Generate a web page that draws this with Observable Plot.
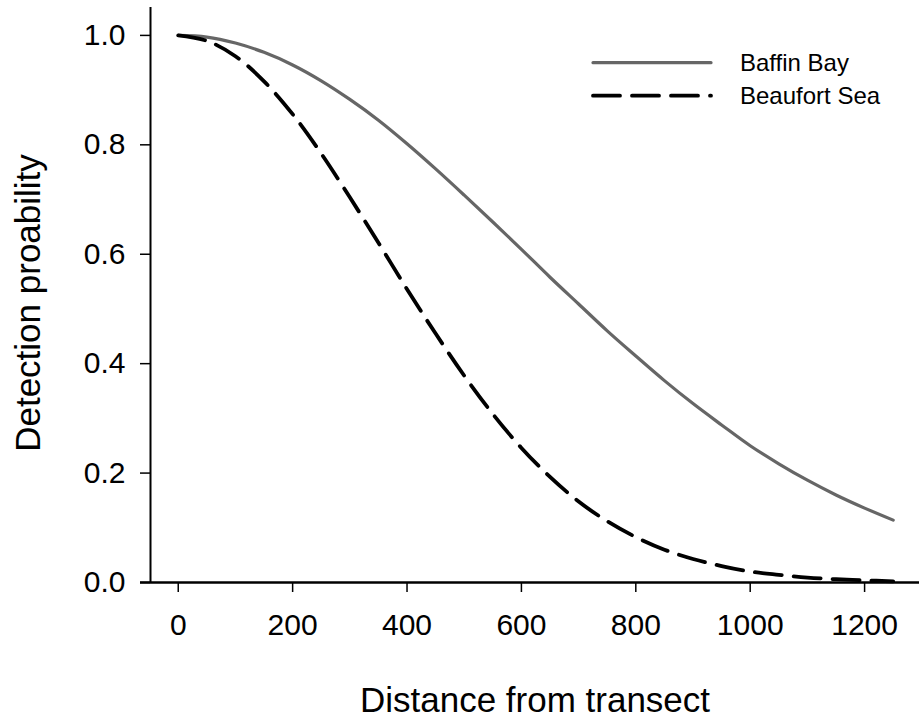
<!DOCTYPE html>
<html>
<head>
<meta charset="utf-8">
<script src="https://cdn.jsdelivr.net/npm/d3@7"></script>
<script src="https://cdn.jsdelivr.net/npm/@observablehq/plot@0.6"></script>
<style>
  html, body { margin: 0; padding: 0; background: #fff; }
  #wrap { position: relative; width: 919px; height: 721px; }
  #legend { position: absolute; left: 0; top: 0; }
</style>
</head>
<body>
<div id="wrap"></div>
<script>
// Distance from transect (x) at which curves were read
const distance = [0, 50, 100, 150, 200, 250, 300, 350, 400, 450, 500, 550, 600,
  650, 700, 750, 800, 850, 900, 950, 1000, 1050, 1100, 1150, 1200, 1250];
// Detection probability
const baffinBay = [1.000, 0.997, 0.986, 0.969, 0.946, 0.917, 0.883, 0.845, 0.802,
  0.756, 0.708, 0.659, 0.609, 0.558, 0.509, 0.460, 0.414, 0.369, 0.327, 0.288,
  0.250, 0.217, 0.187, 0.160, 0.136, 0.114];
const beaufortSea = [1.000, 0.990, 0.962, 0.916, 0.856, 0.784, 0.704, 0.621, 0.536,
  0.455, 0.378, 0.308, 0.246, 0.193, 0.148, 0.112, 0.083, 0.060, 0.043, 0.030,
  0.020, 0.014, 0.009, 0.006, 0.004, 0.002];
const seriesNames = ["Baffin Bay", "Beaufort Sea"];
const xTicks = [0, 200, 400, 600, 800, 1000, 1200];
const yTicks = [0.0, 0.2, 0.4, 0.6, 0.8, 1.0];

const rows = [];
distance.forEach((d, i) => {
  rows.push({series: seriesNames[0], d, p: baffinBay[i]});
  rows.push({series: seriesNames[1], d, p: beaufortSea[i]});
});

const font = "'Liberation Sans', Arial, sans-serif";
const xDomain = [-48.5, 1296];
const yDomain = [0, 1.051];

const chart = Plot.plot({
  width: 919,
  height: 721,
  marginLeft: 150,
  marginRight: 0,
  marginTop: 7,
  marginBottom: 139,
  style: {fontFamily: font, background: "#fff", color: "#000", overflow: "visible"},
  x: {domain: xDomain},
  y: {domain: yDomain},
  marks: [
    Plot.axisX(xTicks, {tickSize: 10, tickPadding: 21, fontSize: 30, label: null, stroke: "#000", strokeWidth: 1.5, tickFormat: d3.format("d")}),
    Plot.axisY(yTicks, {tickSize: 10, tickPadding: 15, fontSize: 30, label: null, stroke: "#000", strokeWidth: 1.5, tickFormat: d3.format(".1f")}),
    Plot.ruleX([xDomain[0]], {y1: 0, y2: yDomain[1], stroke: "#000", strokeWidth: 2}),
    Plot.ruleY([0], {insetLeft: -10, stroke: "#000", strokeWidth: 2.5}),
    Plot.line(rows.filter(r => r.series === seriesNames[0]), {x: "d", y: "p", stroke: "#666666", strokeWidth: 3.2, curve: "catmull-rom"}),
    Plot.line(rows.filter(r => r.series === seriesNames[1]), {x: "d", y: "p", stroke: "#000", strokeWidth: 3.8, strokeDasharray: "27,12", strokeLinecap: "round", curve: "catmull-rom"}),
    Plot.text(["Distance from transect"], {frameAnchor: "bottom", lineAnchor: "middle", textAnchor: "middle", dy: 118.5, fontSize: 35, fill: "#000"}),
    Plot.text(["Detection proability"], {frameAnchor: "left", lineAnchor: "middle", textAnchor: "middle", dx: -121.5, dy: 8, rotate: -90, fontSize: 35, fill: "#000"})
  ]
});
document.getElementById("wrap").appendChild(chart);

// Legend overlay
const lg = d3.select("#wrap").append("svg")
  .attr("id", "legend").attr("width", 919).attr("height", 140)
  .style("font-family", font);
const legendItems = [
  {name: seriesNames[0], stroke: "#666666", width: 3.2, dash: null},
  {name: seriesNames[1], stroke: "#000", width: 3.8, dash: "27,12"}
];
legendItems.forEach((it, i) => {
  const y = 62.7 + i * 33;
  lg.append("line").attr("x1", 593).attr("x2", 711).attr("y1", y).attr("y2", y)
    .attr("stroke", it.stroke).attr("stroke-width", it.width)
    .attr("stroke-linecap", "round")
    .attr("stroke-dasharray", it.dash);
  lg.append("text").attr("x", 740).attr("y", y).attr("dy", "0.35em")
    .attr("font-size", 24).attr("fill", "#000").text(it.name);
});
</script>
</body>
</html>
